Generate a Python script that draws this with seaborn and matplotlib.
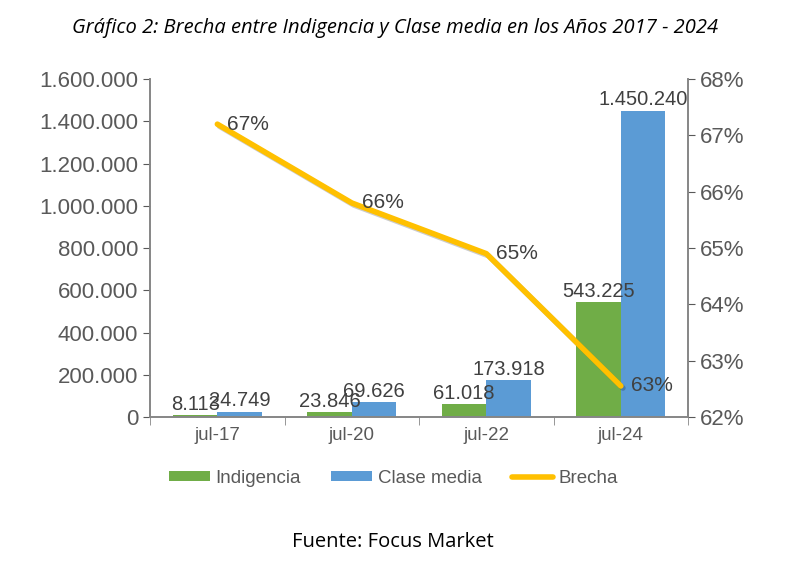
import pandas as pd
import seaborn as sns
import matplotlib.pyplot as plt
import matplotlib.patheffects as pe
from matplotlib.ticker import FuncFormatter, FixedLocator
from matplotlib.lines import Line2D
from matplotlib.patches import Patch

periodos = ["jul-17", "jul-20", "jul-22", "jul-24"]
indigencia = [8113, 23846, 61018, 543225]
clase_media = [24749, 69626, 173918, 1450240]
brecha = [0.672, 0.658, 0.649, 0.6255]
brecha_labels = ["67%", "66%", "65%", "63%"]

df = pd.DataFrame({
    "Periodo": periodos * 2,
    "Valor": indigencia + clase_media,
    "Serie": ["Indigencia"] * 4 + ["Clase media"] * 4,
})

sns.set_style("white")
plt.rcParams["font.family"] = ["Liberation Sans", "DejaVu Sans"]
grey = "#595959"

fig = plt.figure(figsize=(7.9, 5.65), dpi=100)
ax = fig.add_axes([0.19, 0.262, 0.681, 0.598])

sns.barplot(data=df, x="Periodo", y="Valor", hue="Serie", order=periodos,
            palette={"Indigencia": "#70AD47", "Clase media": "#5B9BD5"},
            width=0.66, saturation=1, ax=ax, legend=False,
            edgecolor="none", linewidth=0)

fmt = lambda v: f"{v:,.0f}".replace(",", ".")
for cont in ax.containers:
    ax.bar_label(cont, labels=[fmt(v) for v in cont.datavalues],
                 padding=1, fontsize=14.5, color="#404040")

ax.set_ylim(0, 1600000)
ax.set_yticks(range(0, 1600001, 200000))
ax.yaxis.set_major_formatter(FuncFormatter(lambda v, p: fmt(v)))
ax.set_xlim(-0.5, 3.5)
ax.set_xlabel("")
ax.set_ylabel("")
ax.tick_params(axis="y", labelsize=16, colors=grey, length=5, direction="out", left=True)
ax.tick_params(axis="x", which="major", labelsize=13.5, colors=grey, length=0, pad=7)
ax.xaxis.set_minor_locator(FixedLocator([-0.5, 0.5, 1.5, 2.5, 3.5]))
ax.tick_params(axis="x", which="minor", length=6, color="#868686", direction="out", bottom=True)
for s in ["left", "bottom", "right"]:
    ax.spines[s].set_color("#868686")
    ax.spines[s].set_linewidth(1.2)
ax.spines["top"].set_visible(False)

ax2 = ax.twinx()
ax2.plot(range(len(periodos)), brecha, color="#FFC000", lw=4, solid_capstyle="round",
         path_effects=[pe.SimpleLineShadow(offset=(1.5, -1.5), alpha=0.2), pe.Normal()])
for i, (v, lab) in enumerate(zip(brecha, brecha_labels)):
    ax2.annotate(lab, (i, v), xytext=(7, 0), textcoords="offset points",
                 ha="left", va="center", fontsize=15, color="#404040")
ax2.set_ylim(0.62, 0.68)
ax2.set_yticks([0.62, 0.63, 0.64, 0.65, 0.66, 0.67, 0.68])
ax2.yaxis.set_major_formatter(FuncFormatter(lambda v, p: f"{v*100:.0f}%"))
ax2.tick_params(axis="y", labelsize=16, colors=grey, length=5, direction="out", right=True)
for s in ["left", "bottom", "right"]:
    ax2.spines[s].set_color("#868686")
    ax2.spines[s].set_linewidth(1.2)
ax2.spines["top"].set_visible(False)
ax2.grid(False)
ax.grid(False)

handles = [Patch(facecolor="#70AD47", edgecolor="none"),
           Patch(facecolor="#5B9BD5", edgecolor="none"),
           Line2D([], [], color="#FFC000", lw=4, solid_capstyle="round")]
fig.legend(handles, ["Indigencia", "Clase media", "Brecha"], loc="center",
           bbox_to_anchor=(0.498, 0.153), ncol=3, frameon=False, fontsize=13.5,
           handlelength=2.2, handleheight=0.45, handletextpad=0.3, columnspacing=1.6,
           labelcolor=grey)

fig.text(0.5, 0.95, "Gráfico 2: Brecha entre Indigencia y Clase media en los Años 2017 - 2024",
         ha="center", va="center", fontsize=14.5, style="italic", family=["Open Sans", "DejaVu Sans"],
         color="black")
fig.text(0.497, 0.04, "Fuente: Focus Market", ha="center", va="center", fontsize=14.5,
         family=["Open Sans", "DejaVu Sans"], color="black")

fig.savefig("out.png", dpi=100)
